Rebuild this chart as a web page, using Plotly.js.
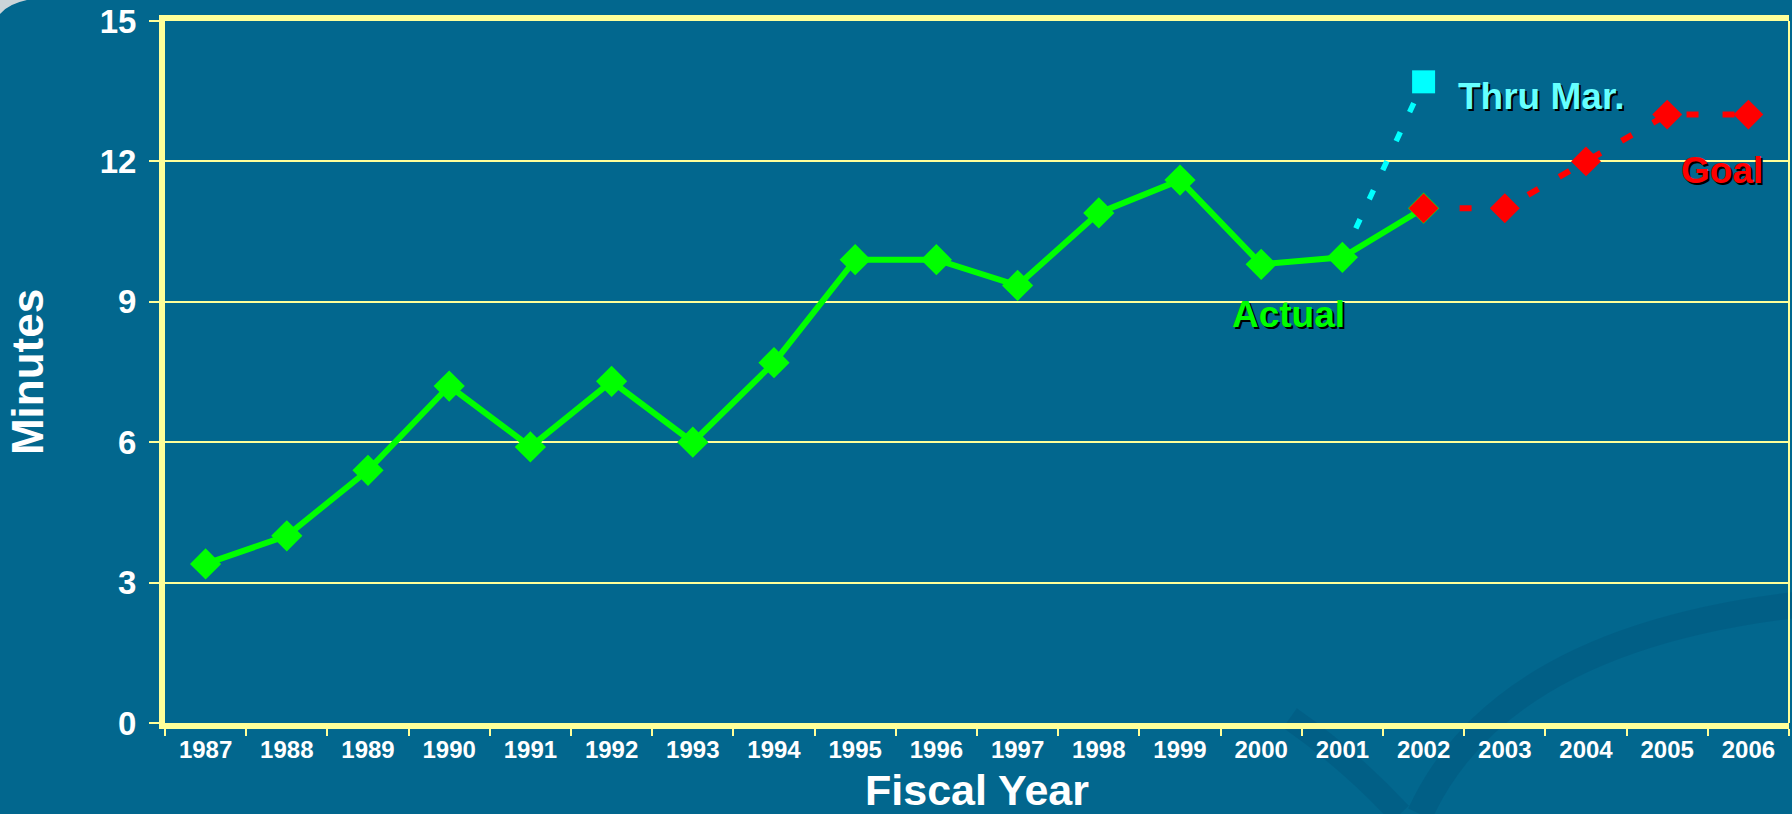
<!DOCTYPE html>
<html>
<head>
<meta charset="utf-8">
<script src="https://cdn.plot.ly/plotly-3.0.1.min.js"></script>
<style>html,body{margin:0;padding:0;background:#02678e;}#chart{width:1792px;height:814px;}</style>
</head>
<body>
<div id="chart"></div>
<script>
// ---- data ----
const years = ['1987','1988','1989','1990','1991','1992','1993','1994','1995','1996','1997','1998','1999','2000','2001','2002','2003','2004','2005','2006'];
const actualYears = ['1987','1988','1989','1990','1991','1992','1993','1994','1995','1996','1997','1998','1999','2000','2001','2002'];
const actualMinutes = [3.4, 4.0, 5.4, 7.2, 5.9, 7.3, 6.0, 7.7, 9.9, 9.9, 9.35, 10.9, 11.6, 9.8, 9.95, 11.0];
const goalYears = ['2002','2003','2004','2005','2006'];
const goalMinutes = [11.0, 11.0, 12.0, 13.0, 13.0];
const thruMarYears = ['2001','2002'];
const thruMarMinutes = [9.95, 13.7];
const yTicks = [0, 3, 6, 9, 12, 15];

// ---- layout helpers ----
const W = 1792, H = 814;
const L = 165, R = 1789, T = 21, B = 723;
const px = x => (x - L) / (R - L);
const py = y => (B - y) / (B - T);
const P = (x, y) => px(x).toFixed(4) + ',' + py(y).toFixed(4);

const FONT = 'Arial, "Liberation Sans", sans-serif';
const YEL = '#ffff99';
const BG = '#02678e';
const NOLINE = {width: 0};

const traces = [
  {
    x: thruMarYears, y: thruMarMinutes, type: 'scatter', mode: 'lines',
    line: {color: '#00ffff', width: 5.5, dash: '10px,22px'},
    hoverinfo: 'skip', showlegend: false
  },
  {
    x: [thruMarYears[1]], y: [thruMarMinutes[1]], type: 'scatter', mode: 'markers',
    marker: {symbol: 'square', size: 23, color: '#00ffff', line: NOLINE},
    hoverinfo: 'skip', showlegend: false
  },
  {
    x: goalYears, y: goalMinutes, type: 'scatter', mode: 'lines+markers',
    line: {color: '#ff0000', width: 6, dash: '12px,24px'},
    marker: {symbol: 'diamond', size: 23, color: '#ff0000', line: NOLINE},
    hoverinfo: 'skip', showlegend: false
  },
  {
    x: actualYears, y: actualMinutes, type: 'scatter', mode: 'lines+markers',
    line: {color: '#00ff00', width: 6},
    marker: {symbol: 'diamond', size: 24, color: '#00ff00', line: NOLINE},
    hoverinfo: 'skip', showlegend: false
  },
  {
    x: ['2002'], y: [goalMinutes[0]], type: 'scatter', mode: 'markers',
    marker: {symbol: 'diamond', size: 23, color: '#ff0000', line: NOLINE},
    hoverinfo: 'skip', showlegend: false
  }
];

const shadow = '2px 2px 0px #000000';
const layout = {
  width: W, height: H,
  margin: {l: L, r: W - R, t: T, b: H - B, pad: 0},
  paper_bgcolor: BG, plot_bgcolor: 'rgba(0,0,0,0)',
  showlegend: false,
  font: {family: FONT, color: '#ffffff'},
  xaxis: {
    type: 'category', categoryorder: 'array', categoryarray: years,
    range: [-0.5, years.length - 0.5],
    tickson: 'boundaries', ticks: 'outside', ticklen: 7, tickwidth: 2, tickcolor: YEL,
    showline: true, linecolor: YEL, linewidth: 6, mirror: true,
    showgrid: false, zeroline: false,
    tickfont: {family: FONT, size: 24, color: '#ffffff', weight: 'bold'},
    title: {text: 'Fiscal Year', font: {family: FONT, size: 43, color: '#ffffff', weight: 'bold'}, standoff: 18},
    fixedrange: true
  },
  yaxis: {
    range: [0, 15], tickvals: yTicks, ticktext: yTicks.map(String),
    ticks: 'outside', ticklen: 10, tickwidth: 2, tickcolor: YEL,
    showline: true, linecolor: YEL, linewidth: 6,
    showgrid: true, gridcolor: YEL, gridwidth: 2, zeroline: false,
    tickfont: {family: FONT, size: 33, color: '#ffffff', weight: 'bold'},
    ticklabelstandoff: 6,
    title: {text: 'Minutes', font: {family: FONT, size: 44, color: '#ffffff', weight: 'bold'}, standoff: 44},
    fixedrange: true
  },
  shapes: [
    // right border (thin)
    {type: 'line', xref: 'paper', yref: 'paper', x0: 1, x1: 1, y0: 0, y1: 1, line: {color: YEL, width: 2}},
    // background decoration: light swoosh in top-left corner
    {type: 'path', xref: 'paper', yref: 'paper', layer: 'below',
     path: 'M ' + P(0, 0) + ' L ' + P(27, 0) + ' Q ' + P(8, 4) + ' ' + P(0, 14) + ' Z',
     fillcolor: 'rgba(225,225,225,0.9)', line: {width: 0}},
    // background decoration: darker arcs bottom-right
    {type: 'path', xref: 'paper', yref: 'paper', layer: 'below',
     path: 'M ' + P(1420, 814) + ' Q ' + P(1500, 640) + ' ' + P(1795, 605),
     line: {color: 'rgba(0,60,100,0.18)', width: 26}},
    {type: 'path', xref: 'paper', yref: 'paper', layer: 'below',
     path: 'M ' + P(1290, 718) + ' Q ' + P(1350, 760) + ' ' + P(1400, 814),
     line: {color: 'rgba(0,60,100,0.18)', width: 24}}
  ],
  annotations: [
    {text: 'Thru Mar.', xref: 'x', yref: 'y', x: 16.45, y: 13.38, showarrow: false,
     font: {family: FONT, size: 37, color: '#66ffff', weight: 'bold', shadow: shadow}},
    {text: 'Goal', xref: 'x', yref: 'y', x: 18.67, y: 11.8, showarrow: false,
     font: {family: FONT, size: 37, color: '#ff0000', weight: 'bold', shadow: shadow}},
    {text: 'Actual', xref: 'x', yref: 'y', x: 13.33, y: 8.72, showarrow: false,
     font: {family: FONT, size: 37, color: '#00ff00', weight: 'bold', shadow: shadow}}
  ]
};

Plotly.newPlot('chart', traces, layout, {displayModeBar: false, staticPlot: true});
</script>
</body>
</html>
